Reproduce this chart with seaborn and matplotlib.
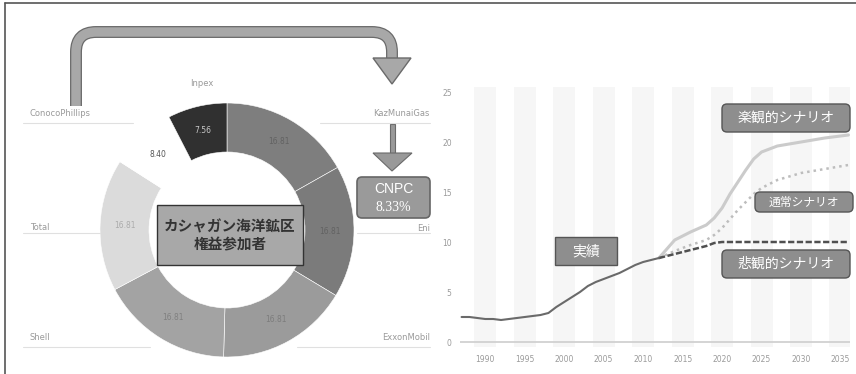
import numpy as np
import pandas as pd
import matplotlib
matplotlib.use("Agg")
import matplotlib.pyplot as plt
import seaborn as sns
from matplotlib.patches import FancyBboxPatch, Rectangle, Polygon, PathPatch
from matplotlib.path import Path

# ---------------- data ----------------
shareholders = ["KazMunaiGas", "Eni", "ExxonMobil", "Shell", "Total", "ConocoPhillips", "Inpex"]
shares = [16.81, 16.81, 16.81, 16.81, 16.81, 8.40, 7.56]

center_title = "カシャガン海洋鉱区\n権益参加者"
cnpc_name = "CNPC"
cnpc_share = "8.33%"

actual_years = list(range(1987, 2013))
actual_vals = [2.5, 2.5, 2.4, 2.3, 2.3, 2.2, 2.3, 2.4, 2.5, 2.6, 2.7, 2.9, 3.5,
               4.0, 4.5, 5.0, 5.6, 6.0, 6.3, 6.6, 6.9, 7.3, 7.7, 8.0, 8.2, 8.4]

scenario_years = [2012, 2014, 2016, 2018, 2019, 2020, 2021, 2022, 2023, 2024, 2025, 2027, 2030, 2033, 2036]
optimistic_vals = [8.4, 10.2, 11.0, 11.7, 12.4, 13.4, 14.8, 16.0, 17.2, 18.3, 19.0, 19.6, 20.0, 20.4, 20.7]
base_vals = [8.4, 9.1, 9.7, 10.2, 10.7, 11.4, 12.3, 13.2, 14.0, 14.8, 15.4, 16.2, 16.9, 17.3, 17.7]
pessimistic_vals = [8.4, 8.8, 9.2, 9.6, 9.9, 10.0, 10.0, 10.0, 10.0, 10.0, 10.0, 10.0, 10.0, 10.0, 10.0]

x_ticks = [1990, 1995, 2000, 2005, 2010, 2015, 2020, 2025, 2030, 2035]
y_ticks = [0, 5, 10, 15, 20, 25]

label_actual = "実績"
label_opt = "楽観的シナリオ"
label_base = "通常シナリオ"
label_pess = "悲観的シナリオ"

# ---------------- style ----------------
sns.set_theme(style="white")
plt.rcParams['font.family'] = ['Noto Sans CJK JP', 'DejaVu Sans']

W, H = 856, 374
fig = plt.figure(figsize=(W / 100, H / 100), dpi=100)
fig.patch.set_facecolor("white")


def fx(px):
    return px / W


def fy(py):
    return 1 - py / H


# ---------------- donut ----------------
cx, cy, half = 227, 230, 130
ax_pie = fig.add_axes([fx(cx - half), fy(cy + half), 2 * half / W, 2 * half / H])
wedge_colors = ["#7e7e7e", "#7b7b7b", "#9b9b9b", "#a3a3a3", "#dbdbdb", "#ffffff", "#303030"]
value_colors = ["#626262", "#626262", "#7c7c7c", "#808080", "#ababab", "#555555", "#c8c8c8"]
outer_r = 127 / half
ring_w = 49 / half
wedges, _, autotexts = ax_pie.pie(
    shares, colors=wedge_colors, startangle=90, counterclock=False,
    radius=outer_r, wedgeprops=dict(width=ring_w, edgecolor="white", linewidth=0.4),
    autopct=lambda p: f"{p * sum(shares) / 100:.2f}", pctdistance=(outer_r - ring_w / 2) / outer_r,
    textprops=dict(fontsize=5.5, family=["DejaVu Sans"]))
for t, c in zip(autotexts, value_colors):
    t.set_color(c)
ax_pie.set_xlim(-1, 1)
ax_pie.set_ylim(-1, 1)
ax_pie.set_aspect("equal")
ax_pie.axis("off")

# ---------------- line chart ----------------
ax = fig.add_axes([fx(460), fy(347), 390 / W, 260 / H])
for t in x_ticks:
    ax.axvspan(t - 1.4, t + 1.4, color="#f6f6f6", lw=0, zorder=0)
ax.axhline(0, color="#d4d4d4", lw=1.4, zorder=1)

df_act = pd.DataFrame({"year": actual_years, "value": actual_vals})
df_opt = pd.DataFrame({"year": scenario_years, "value": optimistic_vals})
df_base = pd.DataFrame({"year": scenario_years, "value": base_vals})
df_pess = pd.DataFrame({"year": scenario_years, "value": pessimistic_vals})

sns.lineplot(data=df_opt, x="year", y="value", ax=ax, color="#cbcbcb", lw=2.2, zorder=3)
sns.lineplot(data=df_base, x="year", y="value", ax=ax, color="#bdbdbd", lw=1.8,
             linestyle=(0, (1, 1.6)), zorder=3)
sns.lineplot(data=df_pess, x="year", y="value", ax=ax, color="#505050", lw=1.8,
             linestyle=(0, (2.5, 1)), zorder=4)
sns.lineplot(data=df_act, x="year", y="value", ax=ax, color="#6a6a6a", lw=1.5, zorder=5)

ax.set_xlim(1986.8, 2036.2)
ax.set_ylim(-0.5, 25.5)
ax.set_xticks(x_ticks)
ax.set_xticklabels([str(t) for t in x_ticks])
ax.set_yticks(y_ticks)
ax.set_yticklabels([str(t) for t in y_ticks])
ax.tick_params(axis="both", labelsize=5.5, colors="#9a9a9a", length=0, pad=6)
for lbl in ax.get_xticklabels() + ax.get_yticklabels():
    lbl.set_family(["DejaVu Sans"])
ax.set_xlabel("")
ax.set_ylabel("")
for s in ax.spines.values():
    s.set_visible(False)
ax.set_facecolor("none")

# ---------------- overlay ----------------
ov = fig.add_axes([0, 0, 1, 1], zorder=10)
ov.set_xlim(0, W)
ov.set_ylim(H, 0)
ov.axis("off")
ov.patch.set_alpha(0)

# frame
ov.plot([5, 5], [3, H], color="#555555", lw=1.2)
ov.plot([5, W], [3, 3], color="#555555", lw=1.2)

# outer labels with leader lines
lab_col = "#9a9a9a"
line_col = "#e0e0e0"
outer_labels = [
    ("ConocoPhillips", 30, 113, "left", (23, 133, 123)),
    ("Inpex", 202, 83, "center", None),
    ("KazMunaiGas", 430, 113, "right", (320, 430, 123)),
    ("Eni", 430, 228, "right", (357, 430, 233)),
    ("Total", 30, 227, "left", (23, 100, 233)),
    ("Shell", 30, 337, "left", (23, 150, 347)),
    ("ExxonMobil", 430, 337, "right", (297, 430, 347)),
]
for name, x, y, ha, ln in outer_labels:
    ov.text(x, y, name, fontsize=6, color=lab_col, ha=ha, va="center", family=["DejaVu Sans"])
    if ln:
        ov.plot([ln[0], ln[1]], [ln[2], ln[2]], color=line_col, lw=0.8)

# center title box
ov.add_patch(Rectangle((157, 205), 146, 60, facecolor="#a8a8a8", edgecolor="#333333", lw=1.0))
ov.text(230, 235, center_title, ha="center", va="center", fontsize=10.5, color="#333333",
        fontweight="bold", linespacing=1.15)

# big curved arrow
shaft_pts = [(76, 106), (76, 52), (76, 32), (96, 32), (372, 32), (392, 32), (392, 52), (392, 62)]
codes = [Path.MOVETO, Path.LINETO, Path.CURVE3, Path.CURVE3, Path.LINETO, Path.CURVE3, Path.CURVE3, Path.LINETO]
p = Path(shaft_pts, codes)
ov.add_patch(PathPatch(p, facecolor="none", edgecolor="#6a6a6a", lw=8.6, capstyle="butt", joinstyle="round"))
ov.add_patch(PathPatch(p, facecolor="none", edgecolor="#a8a8a8", lw=6.8, capstyle="butt", joinstyle="round"))
ov.add_patch(Polygon([(373, 58), (411, 58), (392, 84)], closed=True, facecolor="#a8a8a8",
                     edgecolor="#6a6a6a", lw=1.0))

# small arrow to CNPC
ov.add_patch(Rectangle((390, 124), 5, 31, facecolor="#999999", edgecolor="#6a6a6a", lw=0.8))
ov.add_patch(Polygon([(373, 153), (412, 153), (392, 171)], closed=True, facecolor="#999999",
                     edgecolor="#6a6a6a", lw=0.8))

# CNPC box
ov.add_patch(FancyBboxPatch((357, 177), 73, 41, boxstyle="round,pad=0,rounding_size=5",
                            facecolor="#9a9a9a", edgecolor="#666666", lw=1.2))
ov.text(393.5, 189, cnpc_name, ha="center", va="center", fontsize=10, color="white",
        family=["Liberation Sans"])
ov.text(393.5, 207, cnpc_share, ha="center", va="center", fontsize=10, color="white",
        family=["Liberation Serif"])

# scenario boxes
def rbox(x0, y0, w, h, text, fs, rounded=True):
    style = "round,pad=0,rounding_size=5" if rounded else "square,pad=0"
    ov.add_patch(FancyBboxPatch((x0, y0), w, h, boxstyle=style, facecolor="#8e8e8e",
                                edgecolor="#555555", lw=1.0))
    ov.text(x0 + w / 2, y0 + h / 2, text, ha="center", va="center", fontsize=fs, color="white")


rbox(722, 104, 128, 28, label_opt, 10)
rbox(755, 192, 98, 20, label_base, 8.5)
rbox(722, 250, 128, 28, label_pess, 10)
rbox(555, 237, 62, 28, label_actual, 10, rounded=False)

fig.savefig("out.png", dpi=100)
